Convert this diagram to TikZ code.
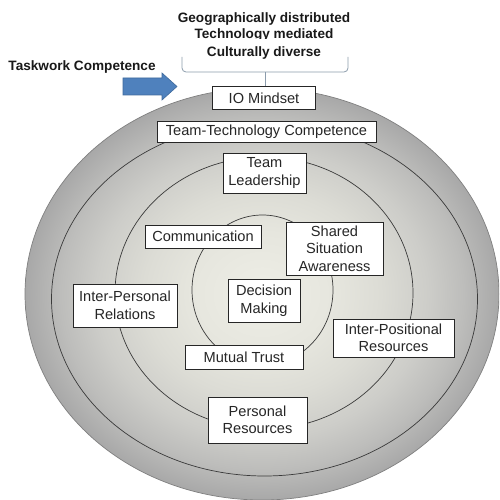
\documentclass[tikz,border=0pt]{standalone}
\usepackage{fontspec}
\setmainfont{Liberation Sans}
\usetikzlibrary{positioning}

\definecolor{sc0}{HTML}{EEEEE6}
\definecolor{sc1}{HTML}{E6E6DE}
\definecolor{sc2}{HTML}{DCDCD5}
\definecolor{sc3}{HTML}{CDCDC9}
\definecolor{sc4}{HTML}{BDBDBB}
\definecolor{sc5}{HTML}{A8A8A8}
\definecolor{arrowblue}{HTML}{4F81BD}
\definecolor{arrowedge}{HTML}{3F6A9C}
\definecolor{bracecol}{HTML}{8C9CAC}
\definecolor{ringline}{HTML}{3A3A3A}

% light centre fading to grey at the rim
\pgfdeclareradialshading{discshade}{\pgfpoint{0bp}{0bp}}{%
  color(0bp)=(sc0); color(7.5bp)=(sc1); color(12.5bp)=(sc2);
  color(17.5bp)=(sc3); color(21.25bp)=(sc4); color(25bp)=(sc5);
  color(50bp)=(sc5)}

\tikzset{
  ring/.style={draw=ringline, line width=0.7pt},
  label box/.style={draw=black!85, fill=white, line width=1pt, inner sep=0pt,
    align=center, text=black!85, font=\fontsize{14.6}{17.5}\selectfont},
  headline/.style={inner sep=0pt, anchor=base, text=black!90,
    font=\fontsize{13.6}{16}\selectfont\bfseries},
}

\begin{document}
\begin{tikzpicture}[x=1pt, y=-1pt]
\clip (0,0) rectangle (499,500);
\fill[white] (0,0) rectangle (499,500);

% nested rings
\shade[shading=discshade, draw=black!50, line width=0.7pt]
  (262,294) ellipse [x radius=237pt, y radius=206pt];
\draw[ring] (264.5,299) ellipse [x radius=213pt, y radius=177pt];
\draw[ring] (264,293) ellipse [x radius=149pt, y radius=136pt];
\draw[ring] (262.5,290) ellipse [x radius=70.5pt, y radius=75pt];

% headings
\node[headline] (geo) at (264,23) {Geographically distributed};
\node[headline] (tech) at (264,39) {Technology mediated};
\node[headline, fill=white, text height=17pt, text depth=2pt] (cult) at (264,56.5) {Culturally diverse};
\node[headline, anchor=base west] (task) at (8.3,70.7) {Taskwork Competence};

% block arrow
\fill[arrowblue, draw=arrowedge, line width=0.6pt]
  (123,78) -- (162,78) -- (162,73) -- (177,86.5) -- (162,100) -- (162,95) -- (123,95) -- cycle;

% labelled boxes
\node[label box, minimum width=103pt, minimum height=23pt] (io) at (264,98.5) {IO Mindset};
\node[label box, minimum width=219pt, minimum height=21pt] (ttc) at (266.5,132) {Team-Technology Competence};
\node[label box, minimum width=83pt, minimum height=40pt] (lead) at (264.5,173) {Team\\Leadership};
\node[label box, minimum width=116pt, minimum height=23pt] (comm) at (203,236.5) {Communication};
\node[label box, minimum width=97pt, minimum height=53pt] (ssa) at (334.5,248.5) {Shared\\Situation\\Awareness};
\node[label box, minimum width=72pt, minimum height=43pt] (dm) at (264,300.5) {Decision\\Making};
\node[label box, minimum width=104pt, minimum height=43pt] (ipr) at (125,305.5) {Inter-Personal\\Relations};
\node[label box, minimum width=118pt, minimum height=24pt] (mt) at (244,357) {Mutual Trust};
\node[label box, minimum width=121pt, minimum height=38pt] (ipos) at (393.5,338) {Inter-Positional\\Resources};
\node[label box, minimum width=99pt, minimum height=46pt] (pr) at (257.5,420) {Personal\\Resources};

% bracket over the IO Mindset box
\coordinate (bl) at (182,57);
\coordinate (br) at (348,57);
\coordinate (bm) at (265,72);
\draw[bracecol, line width=0.8pt, rounded corners=4pt] (bl) |- (bm) -| (br);
\draw[bracecol, line width=0.8pt] (bm) -- (bm |- io.north);
\end{tikzpicture}
\end{document}
